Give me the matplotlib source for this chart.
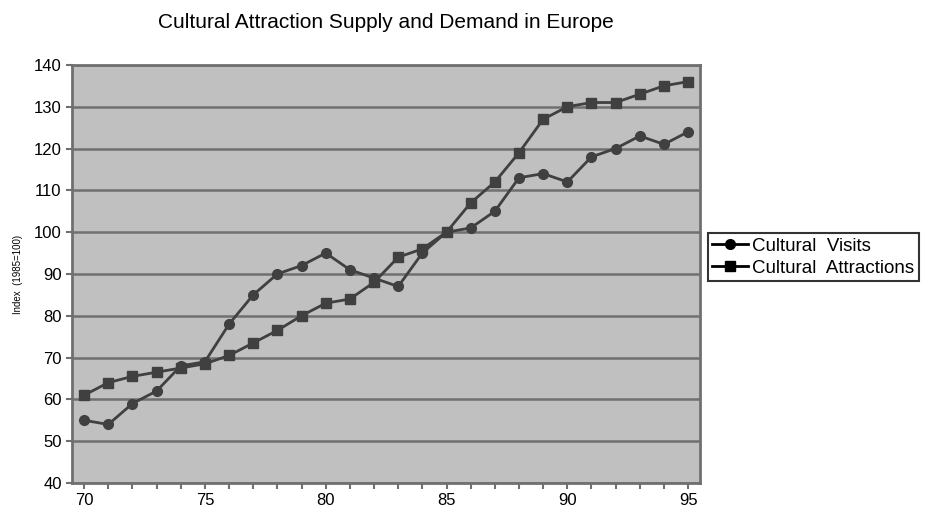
import matplotlib
matplotlib.use("Agg")
import matplotlib.pyplot as plt

years = list(range(70, 96))
visits = [55, 54, 59, 62, 68, 69, 78, 85, 90, 92, 95, 91, 89, 87, 95, 100,
          101, 105, 113, 114, 112, 118, 120, 123, 121, 124]
attractions = [61, 64, 65.5, 66.5, 67.5, 68.5, 70.5, 73.5, 76.5, 80, 83, 84, 88, 94, 96, 100,
               107, 112, 119, 127, 130, 131, 131, 133, 135, 136]

plt.rcParams['font.family'] = ['Liberation Sans', 'DejaVu Sans']

fig = plt.figure(figsize=(9.32, 5.13), dpi=100)
ax = fig.add_axes([0.0773, 0.0585, 0.674, 0.815])
ax.set_facecolor("#c0c0c0")

line_col = "#404040"
ax.plot(years, visits, color=line_col, lw=2, marker='o', ms=7, label="Cultural  Visits")
ax.plot(years, attractions, color=line_col, lw=2, marker='s', ms=7, label="Cultural  Attractions")

ax.set_xlim(69.5, 95.5)
ax.set_ylim(40, 140)
ax.set_yticks(range(40, 141, 10))
ax.set_xticks(range(70, 96, 5))
ax.set_xticks(years, minor=True)
ax.yaxis.grid(True, color="#707070", lw=1.8)
ax.set_axisbelow(True)
for s in ax.spines.values():
    s.set_color("#707070")
    s.set_linewidth(2)
ax.tick_params(axis='both', labelsize=12, color="#707070", width=1.5, length=4)
ax.tick_params(axis='x', which='minor', length=4, color="#707070", width=1.5)

ax.set_ylabel("Index  (1985=100)", fontsize=7, labelpad=8)
fig.suptitle("Cultural Attraction Supply and Demand in Europe", x=0.414, y=0.975, fontsize=15)

leg = ax.legend(loc='center left', bbox_to_anchor=(1.012, 0.54), fontsize=13.5,
                frameon=True, fancybox=False, borderpad=0.25, handlelength=1.9,
                handletextpad=0.2, labelspacing=0.25, borderaxespad=0)
leg.get_frame().set_edgecolor("black")
leg.get_frame().set_linewidth(1.5)
for h in leg.legend_handles:
    h.set_color("black")
    h.set_markerfacecolor("black")

fig.savefig("out.png", dpi=100)
